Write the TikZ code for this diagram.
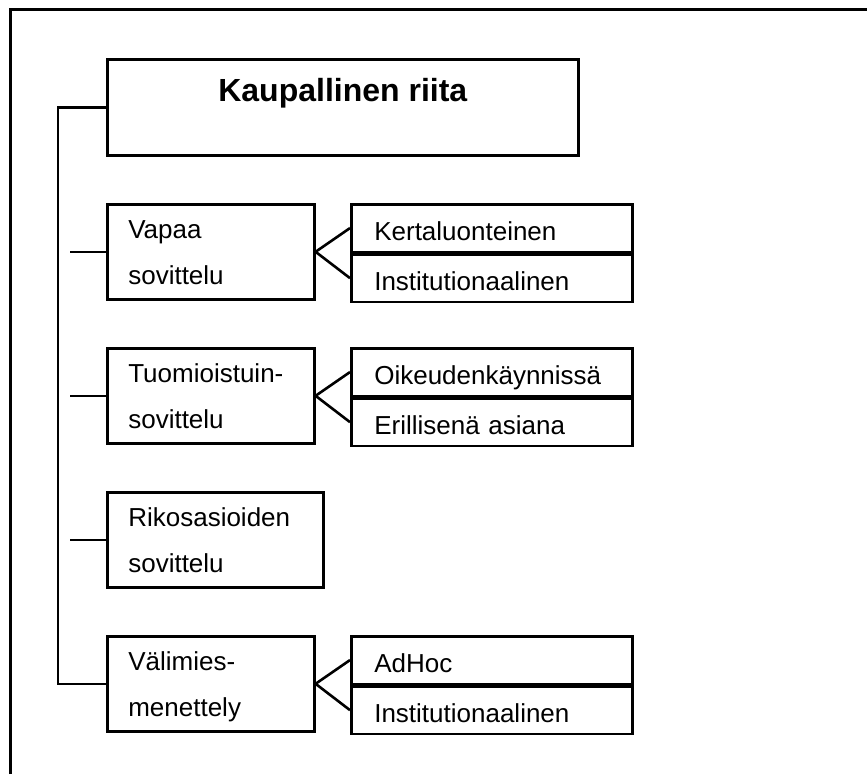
\documentclass[tikz,border=0pt]{standalone}
\usepackage{fontspec}
\setmainfont{Liberation Sans}
\begin{document}
\begin{tikzpicture}[x=1pt,y=-1pt]
    \tikzstyle{frame}=[line width=3pt]
    \tikzstyle{link}=[line width=2.6pt]
    \tikzstyle{title}=[draw,line width=2.6pt,anchor=north west,minimum width=471pt,inner ysep=0pt,text height=42pt,text depth=54pt,font=\fontsize{32}{38}\selectfont\bfseries]
    \tikzstyle{box}=[draw,line width=2.6pt,anchor=north west,inner xsep=21pt,inner ysep=0pt,align=left,text width=165pt,text height=34pt,text depth=61pt,font=\fontsize{26}{46}\selectfont]
    \tikzstyle{sub}=[draw,line width=2.6pt,anchor=north west,inner xsep=23pt,inner ysep=0pt,align=left,text width=235pt,text height=36pt,text depth=11.5pt,font=\fontsize{26}{30}\selectfont,execute at begin node={\hyphenpenalty=10000\relax}]
    \useasboundingbox (0,0) rectangle (867,774);
    \draw[frame] (10,774) -- (10,9) -- (867,9);

    \node[title] (riita) at (106,58) {Kaupallinen riita};

    \node[box] (vapaa) at (106,203) {Vapaa\\sovittelu};
    \node[box] (tuomio) at (106,347) {Tuomioistuin-\\sovittelu};
    \node[box,text width=174pt] (rikos) at (106,491) {Rikosasioiden\\sovittelu};
    \node[box] (valimies) at (106,635) {Välimies-\\menettely};

    \node[sub] (vapaa-a) at (350,203) {Kertaluonteinen};
    \node[sub] (vapaa-b) at (vapaa-a.south west) {Institutionaalinen};
    \node[sub] (tuomio-a) at (350,347) {Oikeudenkäynnissä};
    \node[sub] (tuomio-b) at (tuomio-a.south west) {Erillisenä asiana};
    \node[sub] (valimies-a) at (350,635) {AdHoc};
    \node[sub] (valimies-b) at (valimies-a.south west) {Institutionaalinen};

    \draw[link] (riita.west) -- ++(-48,0) |- (valimies.west);
    \draw[link] (vapaa.west) -- ++(-36,0);
    \draw[link] (tuomio.west) -- ++(-36,0);
    \draw[link] (rikos.west) -- ++(-36,0);

    \draw[link] (vapaa-a.west) -- (vapaa.east) -- (vapaa-b.west);
    \draw[link] (tuomio-a.west) -- (tuomio.east) -- (tuomio-b.west);
    \draw[link] (valimies-a.west) -- (valimies.east) -- (valimies-b.west);
\end{tikzpicture}
\end{document}
